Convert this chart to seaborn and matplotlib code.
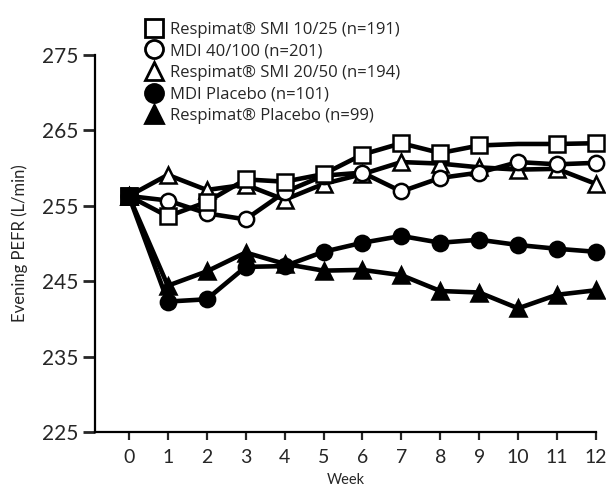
import matplotlib
matplotlib.use("Agg")
import matplotlib.pyplot as plt
from matplotlib.lines import Line2D
import seaborn as sns
import pandas as pd

weeks = [0, 1, 2, 3, 4, 5, 6, 7, 8, 9, 10, 11, 12]
smi_10_25 = [256.3, 253.6, 255.5, 258.5, 258.2, 259.2, 261.8, 263.3, 262.0, 263.0, 263.2, 263.2, 263.3]
mdi_40_100 = [256.3, 255.7, 254.0, 253.2, 256.8, 259.0, 259.4, 256.9, 258.7, 259.4, 260.8, 260.5, 260.7]
smi_20_50 = [256.3, 259.1, 257.1, 257.8, 255.8, 257.9, 259.2, 260.8, 260.6, 260.1, 259.8, 259.9, 257.9]
mdi_placebo = [256.3, 242.3, 242.6, 246.9, 247.0, 248.9, 250.1, 251.0, 250.1, 250.5, 249.8, 249.3, 248.9]
smi_placebo = [256.3, 244.4, 246.3, 248.8, 247.3, 246.4, 246.5, 245.8, 243.7, 243.5, 241.4, 243.2, 243.8]

labels = ["Respimat® SMI 10/25 (n=191)", "MDI 40/100 (n=201)", "Respimat® SMI 20/50 (n=194)",
          "MDI Placebo (n=101)", "Respimat® Placebo (n=99)"]
yticks = [225, 235, 245, 255, 265, 275]

sns.set_style("white")
plt.rcParams["font.family"] = ["Lato", "DejaVu Sans"]

fig = plt.figure(figsize=(6.06, 4.86), dpi=100)
ax = fig.add_axes([95 / 606, 1 - 432 / 486, (596 - 95) / 606, (432 - 55) / 486])

series = [smi_10_25, mdi_40_100, smi_20_50, mdi_placebo, smi_placebo]
styles = [
    dict(marker="s", mfc="white", ms=11),
    dict(marker="o", mfc="white", ms=11),
    dict(marker="^", mfc="white", ms=11.5),
    dict(marker="o", mfc="black", ms=11),
    dict(marker="^", mfc="black", ms=11.5),
]
order = [4, 3, 2, 1, 0]
for i in order:
    df = pd.DataFrame({"Week": weeks, "PEFR": series[i]})
    st = styles[i]
    kw = {}
    if i == 0:
        kw["markevery"] = [k for k in range(len(weeks)) if k != 10]
    sns.lineplot(data=df, x="Week", y="PEFR", ax=ax, color="black", lw=3.3,
                 marker=st["marker"], mfc=st["mfc"], mec="black", ms=st["ms"], mew=1.8,
                 clip_on=False, zorder=3 + (5 - i), **kw)

# shared baseline point (all groups overlap at week 0)
df0 = pd.DataFrame({"Week": weeks[:1], "PEFR": smi_10_25[:1]})
sns.lineplot(data=df0, x="Week", y="PEFR", ax=ax, color="black", lw=0, marker="s",
             mfc="black", mec="black", ms=12, mew=1.8, zorder=20, clip_on=False)

ax.set_xlim(-0.87, 12)
ax.set_ylim(225, 275)
ax.set_xticks(weeks)
ax.set_xticklabels([str(w) for w in weeks], fontsize=14)
ax.set_yticks(yticks)
ax.set_yticklabels([str(y) for y in yticks], fontsize=15)
for s in ["top", "right"]:
    ax.spines[s].set_visible(False)
for s in ["left", "bottom"]:
    ax.spines[s].set_linewidth(1.6)
    ax.spines[s].set_color("black")
ax.tick_params(axis="y", direction="out", length=9, width=2, pad=3, left=True)
ax.tick_params(axis="x", direction="out", length=6, width=1.6, pad=6, bottom=True)
ax.set_xlabel("Week", fontsize=10.5, labelpad=5)
ax.set_ylabel("Evening PEFR (L/min)", fontsize=12, labelpad=10)

handles = []
for st in styles:
    handles.append(Line2D([], [], ls="none", marker=st["marker"], mfc=st["mfc"], mec="black",
                          ms=13, mew=2))
fig.legend(handles, labels, loc="upper left", bbox_to_anchor=(137 / 606, 1 - 15 / 486),
           frameon=False, handletextpad=0.35, labelspacing=0.34,
           handlelength=1.2, borderaxespad=0,
           prop={"family": ["Open Sans", "DejaVu Sans"], "size": 12})

fig.savefig("out.png", dpi=100)
